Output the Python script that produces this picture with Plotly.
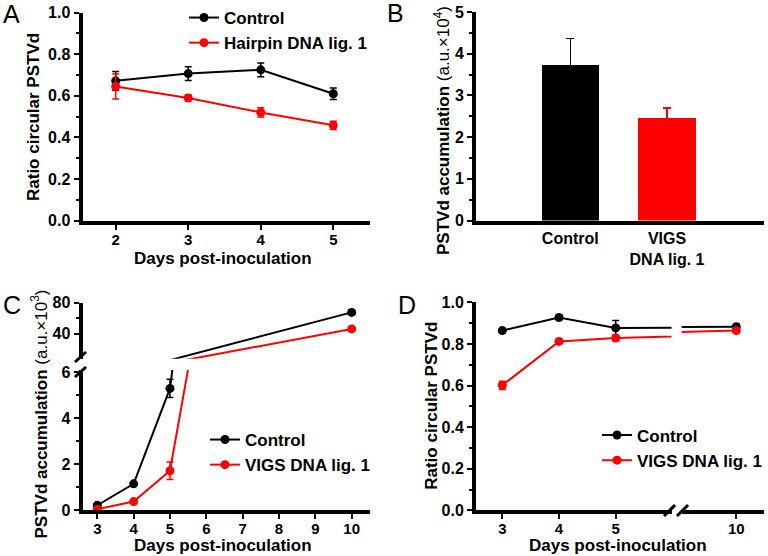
import plotly.graph_objects as go

W, H = 768, 556

# ---------------- data ----------------
# Panel A
days_a = [2, 3, 4, 5]
ctrl_a = [0.672, 0.707, 0.725, 0.610]
ctrl_a_err = [0.045, 0.033, 0.033, 0.028]
hp_a = [0.645, 0.590, 0.520, 0.458]
hp_a_err = [0.060, 0.015, 0.022, 0.020]

# Panel B
groups_b = ['Control', 'VIGS<br>DNA lig. 1']
acc_b = [3.72, 2.45]
acc_b_err = [0.65, 0.25]

# Panel C
days_c = [3, 4, 5, 10]
ctrl_c = [0.22, 1.15, 5.30, 67.5]
ctrl_c_err = [0.05, 0.07, 0.40, 1.5]
vigs_c = [0.05, 0.38, 1.72, 46.0]
vigs_c_err = [0.03, 0.06, 0.38, 1.5]

# Panel D
days_d = [3, 4, 5, 10]
ctrl_d = [0.864, 0.927, 0.877, 0.883]
ctrl_d_err = [0.010, 0.010, 0.035, 0.010]
vigs_d = [0.601, 0.812, 0.828, 0.864]
vigs_d_err = [0.020, 0.010, 0.012, 0.010]

# ---------------- helpers ----------------
FONT = 'Liberation Sans'
BLACK = '#000000'
RED = '#ff0000'


def px(x):
    return x / W


def py(y):
    return 1 - y / H


def lin(p0, v0, p1, v1, pa, pb):
    s = (v1 - v0) / (p1 - p0)
    return [v0 + (pa - p0) * s, v0 + (pb - p0) * s]


tickfont = dict(family=FONT, size=16, color='black', weight='bold')
xtickfont = dict(family=FONT, size=15, color='black', weight='bold')
minor_style = dict(ticks='outside', ticklen=3, tickwidth=1.5, tickcolor='black')


def axis(**kw):
    d = dict(showline=True, linecolor='black', linewidth=4, ticks='outside',
             ticklen=5, tickwidth=1.5, tickcolor='black', showgrid=False,
             zeroline=False, tickfont=tickfont, fixedrange=True, automargin=False)
    d.update(kw)
    return d


def xaxis_style(**kw):
    return axis(tickfont=xtickfont, ticklabelstandoff=-3, **kw)


def line_trace(x, y, err, color, name, xa, ya, showlegend=True,
               legend='legend', clip=True, opacity=None):
    return go.Scatter(
        x=x, y=y, mode='lines+markers', name=name,
        line=dict(color=color, width=2),
        marker=dict(color=color, size=9, opacity=opacity if opacity is not None else 1),
        error_y=dict(type='data', array=err, color=color, thickness=1.5, width=3.5),
        xaxis=xa, yaxis=ya, showlegend=showlegend, legend=legend,
        cliponaxis=clip)


fig = go.Figure()

# Panel A
fig.add_trace(line_trace(days_a, ctrl_a, ctrl_a_err, BLACK, 'Control', 'x', 'y'))
fig.add_trace(line_trace(days_a, hp_a, hp_a_err, RED, 'Hairpin DNA lig. 1', 'x', 'y'))

# Panel B
for g, v, e, c in zip(groups_b, acc_b, acc_b_err, [BLACK, RED]):
    fig.add_trace(go.Bar(
        x=[g], y=[v], width=0.59, marker=dict(color=c, line=dict(width=0)),
        error_y=dict(type='data', array=[e], arrayminus=[0], symmetric=False,
                     color=c, thickness=1.5, width=4),
        xaxis='x2', yaxis='y2', showlegend=False))

# Panel C (broken y axis: lower y3, upper y4)
y4_range = lin(333.5, 40, 302.8, 80, 358.8, 302.8)
fig.add_trace(line_trace(days_c, ctrl_c, ctrl_c_err, BLACK, 'Control', 'x3', 'y3',
                         legend='legend2', clip=False))
fig.add_trace(line_trace(days_c, vigs_c, vigs_c_err, RED, 'VIGS DNA lig. 1', 'x3', 'y3',
                         legend='legend2', clip=False))
fig.add_trace(line_trace(days_c, ctrl_c, ctrl_c_err, BLACK, 'Control', 'x3', 'y4',
                         showlegend=False,
                         opacity=[1 if v >= y4_range[0] else 0 for v in ctrl_c]))
fig.add_trace(line_trace(days_c, vigs_c, vigs_c_err, RED, 'VIGS DNA lig. 1', 'x3', 'y4',
                         showlegend=False,
                         opacity=[1 if v >= y4_range[0] else 0 for v in vigs_c]))

# Panel D (broken x axis: left x4, right x5)
fig.add_trace(line_trace(days_d, ctrl_d, ctrl_d_err, BLACK, 'Control', 'x4', 'y5',
                         legend='legend3'))
fig.add_trace(line_trace(days_d, vigs_d, vigs_d_err, RED, 'VIGS DNA lig. 1', 'x4', 'y5',
                         legend='legend3'))
fig.add_trace(line_trace(days_d, ctrl_d, ctrl_d_err, BLACK, 'Control', 'x5', 'y5',
                         showlegend=False))
fig.add_trace(line_trace(days_d, vigs_d, vigs_d_err, RED, 'VIGS DNA lig. 1', 'x5', 'y5',
                         showlegend=False))

legend_font = dict(family=FONT, size=17, color='black', weight='bold')

fig.update_layout(
    template='none',
    width=W, height=H,
    margin=dict(l=0, r=0, t=0, b=0, pad=0),
    paper_bgcolor='white', plot_bgcolor='white',
    bargap=0,
    # A
    xaxis=xaxis_style(domain=[px(82.5), px(370)], range=lin(115.7, 2, 333.3, 5, 82.5, 370),
                      tickvals=days_a, anchor='y'),
    yaxis=axis(domain=[py(220.5), py(12.7)], range=[0, 1], dtick=0.2, tickformat='.1f',
               minor=dict(dtick=0.1, **minor_style), anchor='x'),
    # B
    xaxis2=axis(domain=[px(476), px(764)], type='category', categoryarray=groups_b,
                range=lin(570.3, 0, 667, 1, 476, 764), ticks='', anchor='y2'),
    yaxis2=axis(domain=[py(220.5), py(12)], range=[0, 5], dtick=1,
                minor=dict(dtick=0.5, **minor_style), anchor='x2'),
    # C
    xaxis3=xaxis_style(domain=[px(82.5), px(370)], range=lin(97.3, 3, 351.7, 10, 82.5, 370),
                       dtick=1, anchor='y3'),
    yaxis3=axis(domain=[py(510.3), py(370)], range=lin(510.3, 0, 372.3, 6, 510.3, 370),
                tickvals=[0, 2, 4, 6], minor=dict(dtick=1, **minor_style), anchor='x3'),
    yaxis4=axis(domain=[py(358.8), py(302.8)], range=y4_range,
                tickvals=[40, 80], minor=dict(tickvals=[60], **minor_style), anchor='x3'),
    # D
    xaxis4=xaxis_style(domain=[px(476), px(671.5)], range=lin(502.3, 3, 615.7, 5, 476, 671.5),
                       tickvals=[3, 4, 5], anchor='y5'),
    xaxis5=xaxis_style(domain=[px(681.7), px(764)], range=lin(736.3, 10, 793.0, 11, 681.7, 764),
                       tickvals=[10], anchor='y5'),
    yaxis5=axis(domain=[py(510.3), py(302.3)], range=[0, 1], dtick=0.2, tickformat='.1f',
                minor=dict(dtick=0.1, **minor_style), anchor='x4'),
    legend=dict(x=px(184), y=1.0, xanchor='left', yanchor='top', font=legend_font,
                bgcolor='rgba(0,0,0,0)'),
    legend2=dict(x=px(205), y=py(422), xanchor='left', yanchor='top', font=legend_font,
                 bgcolor='rgba(0,0,0,0)'),
    legend3=dict(x=1.0, y=py(417.5), xanchor='right', yanchor='top', font=legend_font,
                 bgcolor='rgba(0,0,0,0)'),
)

# axis-break marks
brk = dict(type='line', xref='paper', yref='paper', line=dict(color='black', width=3))
for (x0, y0, x1, y1) in [(75, 362, 86, 352), (75, 377, 86, 367),
                         (664, 516, 675, 505), (677, 516, 688, 505)]:
    fig.add_shape(x0=px(x0), y0=py(y0), x1=px(x1), y1=py(y1), **brk)

title_font = dict(family=FONT, size=17, color='black')
annots = [
    # axis titles
    dict(text='<b>Days post-inoculation</b>', x=px(222.5), y=py(258), textangle=0),
    dict(text='<b>Ratio circular PSTVd</b>', x=px(33), y=py(117), textangle=-90),
    dict(text='<b>PSTVd accumulation</b> (a.u.×10<sup>4</sup>)', x=px(442), y=py(131),
         textangle=-90),
    dict(text='<b>PSTVd accumulation</b> (a.u.×10<sup>3</sup>)', x=px(39.5), y=py(414),
         textangle=-90),
    dict(text='<b>Days post-inoculation</b>', x=px(223.3), y=py(545.5), textangle=0),
    dict(text='<b>Ratio circular PSTVd</b>', x=px(431.5), y=py(406.3), textangle=-90),
    dict(text='<b>Days post-inoculation</b>', x=px(618), y=py(545.5), textangle=0),
]
for a in annots:
    fig.add_annotation(xref='paper', yref='paper', showarrow=False, borderpad=0,
                       xanchor='center', yanchor='middle', font=title_font, **a)

letter_font = dict(family=FONT, size=25, color='black')
for t, x, y in [('A', 1, 14), ('B', 385, 13), ('C', 1, 305), ('D', 396, 305)]:
    fig.add_annotation(xref='paper', yref='paper', showarrow=False, text=t,
                       x=px(x), y=py(y), xanchor='left', yanchor='middle',
                       font=letter_font)

fig.write_html('out.html',
               config={'displayModeBar': False},
               post_script="document.body.style.margin='0';"
                           "document.body.style.overflow='hidden';")
